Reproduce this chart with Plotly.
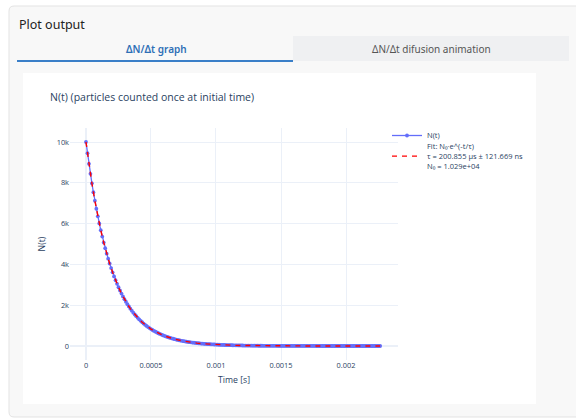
import plotly.graph_objects as go

# ---------------- data ----------------
DT = 1.137e-5  # sampling step [s]
n_counts = [
    10000, 9450, 8930, 8439, 7974, 7536, 7121, 6729, 6359, 6009,
    5679, 5366, 5071, 4792, 4528, 4279, 4044, 3821, 3611, 3412,
    3225, 3047, 2879, 2721, 2571, 2430, 2296, 2170, 2050, 1938,
    1831, 1730, 1635, 1545, 1460, 1380, 1304, 1232, 1164, 1100,
    1040, 983, 928, 877, 829, 784, 740, 700, 661, 625,
    590, 558, 527, 498, 471, 445, 420, 397, 375, 355,
    335, 317, 299, 283, 267, 253, 239, 226, 213, 201,
    190, 180, 170, 161, 152, 143, 136, 128, 121, 114,
    108, 102, 97, 91, 86, 81, 77, 73, 69, 65,
    61, 58, 55, 52, 49, 46, 44, 41, 39, 37,
    35, 33, 31, 29, 28, 26, 25, 23, 22, 21,
    20, 19, 18, 17, 16, 15, 14, 13, 13, 12,
    11, 11, 10, 9, 9, 8, 8, 8, 7, 7,
    6, 6, 6, 5, 5, 5, 5, 4, 4, 4,
    4, 3, 3, 3, 3, 3, 3, 2, 2, 2,
    2, 2, 2, 2, 2, 2, 1, 1, 1, 1,
    1, 1, 1, 1, 1, 1, 1, 1, 1, 1,
    1, 1, 1, 1, 1, 0, 0, 0, 0, 0,
    0, 0, 0, 0, 0, 0, 0, 0, 0, 0,
    0, 0, 0, 0, 0, 0, 0, 0, 0, 0,
]
t_data = [i * DT for i in range(len(n_counts))]

fit_steps = [0, 2, 4, 6, 8, 10, 12, 14, 16, 18, 20, 22, 24, 26, 28, 30,
             32, 34, 36, 38, 40, 42, 44, 46, 48, 50, 52, 54, 56, 58, 60,
             65, 70, 75, 80, 85, 90, 95, 100, 105, 110, 115, 120, 125,
             130, 135, 140, 145, 150, 155, 160, 165, 170, 175, 180, 185,
             190, 195, 199]
n_fit = [10000, 8930, 7974, 7121, 6359, 5679, 5071, 4528, 4044, 3611,
         3225, 2879, 2571, 2296, 2050, 1831, 1635, 1460, 1304, 1164,
         1040, 928, 829, 740, 661, 590, 527, 471, 420, 375, 335,
         253, 190, 143, 108, 81.5, 61.4, 46.3, 34.9, 26.3, 19.8, 14.9,
         11.2, 8.5, 6.4, 4.8, 3.6, 2.7, 2.1, 1.6, 1.2, 0.9, 0.7, 0.5,
         0.4, 0.3, 0.2, 0.2, 0.1]
t_fit = [s * DT for s in fit_steps]

data_name = "N(t)"
fit_name = "Fit: N₀·e^(-t/τ)<br>τ = 200.855 µs ± 121.669 ns<br>N₀ = 1.029e+04"
title_text = "N(t) (particles counted once at initial time)"
x_title = "Time [s]"
y_title = "N(t)"

# ---------------- layout helpers (pixel -> paper) ----------------
W, H = 576, 419
PL, PR, PT, PB = 70, 398, 128, 360


def px(x):
    return (x - PL) / (PR - PL)


def py(y):
    return (PB - y) / (PB - PT)


fig = go.Figure()
fig.add_trace(go.Scatter(
    x=t_data, y=n_counts, mode="lines+markers", name=data_name,
    line=dict(color="#636efa", width=1.3),
    marker=dict(color="#636efa", size=3.8),
    legend="legend",
))
fig.add_trace(go.Scatter(
    x=t_fit, y=n_fit, mode="lines", name=fit_name,
    line=dict(color="red", width=1.4, dash="5px,5px"),
    legend="legend2",
))

shapes = []
# card with rounded left corners
r = 5
cx0, cy0, cx1, cy1 = 9, 6, 600, 417
path = (f"M {px(cx1)},{py(cy0)} L {px(cx0 + r)},{py(cy0)} "
        f"Q {px(cx0)},{py(cy0)} {px(cx0)},{py(cy0 + r)} "
        f"L {px(cx0)},{py(cy1 - r)} "
        f"Q {px(cx0)},{py(cy1)} {px(cx0 + r)},{py(cy1)} "
        f"L {px(cx1)},{py(cy1)} Z")
shapes.append(dict(type="path", xref="paper", yref="paper", path=path,
                   fillcolor="#f8f8f8", line=dict(color="#e3e3e3", width=1),
                   layer="below"))
# second tab background
shapes.append(dict(type="rect", xref="paper", yref="paper",
                   x0=px(293), x1=px(569), y0=py(36), y1=py(61),
                   fillcolor="#eff0f2", line=dict(width=0), layer="below"))
# active tab underline
shapes.append(dict(type="rect", xref="paper", yref="paper",
                   x0=px(17), x1=px(293), y0=py(60), y1=py(62),
                   fillcolor="#3a7fc8", line=dict(width=0), layer="below"))
# white plot box
shapes.append(dict(type="rect", xref="paper", yref="paper",
                   x0=px(23), x1=px(536), y0=py(73), y1=py(404),
                   fillcolor="white", line=dict(width=0), layer="below"))

ui_font = "Noto Sans, Open Sans, sans-serif"
annotations = [
    dict(text="Plot output", x=px(17), y=py(24), xref="paper", yref="paper",
         xanchor="left", yanchor="middle", showarrow=False,
         font=dict(family=ui_font, size=12.5, color="#222222")),
    dict(text="ΔN/Δt graph", x=px(156), y=py(48.5), xref="paper", yref="paper",
         xanchor="center", yanchor="middle", showarrow=False,
         font=dict(family=ui_font, size=10, color="#2e6fb6", weight=600)),
    dict(text="ΔN/Δt difusion animation", x=px(431), y=py(48.5), xref="paper",
         yref="paper", xanchor="center", yanchor="middle", showarrow=False,
         font=dict(family=ui_font, size=10, color="#555555")),
]

axis_common = dict(
    showgrid=True, gridcolor="#EBF0F8", gridwidth=1,
    zeroline=True, zerolinecolor="#EBF0F8", zerolinewidth=1.5,
    showline=False, ticks="",
    tickfont=dict(size=7.4, color="#2a3f5f"),
)

legend_common = dict(xanchor="left", yanchor="middle",
                     font=dict(size=7.5, color="#2a3f5f"),
                     bgcolor="rgba(0,0,0,0)", itemwidth=30)

fig.update_layout(
    width=W, height=H,
    margin=dict(l=PL, r=W - PR, t=PT, b=H - PB, pad=0),
    paper_bgcolor="white", plot_bgcolor="white",
    font=dict(family="Open Sans, verdana, arial, sans-serif", color="#2a3f5f"),
    title=dict(text=title_text, x=50 / W, xanchor="left",
               y=1 - 97 / H, yanchor="middle",
               font=dict(size=10.5, color="#2a3f5f")),
    xaxis=dict(axis_common, range=[-0.000123, 0.0024], dtick=0.0005,
               title=dict(text=x_title, font=dict(size=8.7), standoff=7)),
    yaxis=dict(axis_common, range=[-686, 10686], dtick=2000,
               title=dict(text=y_title, font=dict(size=8.7), standoff=9)),
    legend=dict(legend_common, x=px(387), y=py(135.5)),
    legend2=dict(legend_common, x=px(387), y=py(156.5)),
    shapes=shapes,
    annotations=annotations,
    showlegend=True,
)

fig.write_html("out.html")
